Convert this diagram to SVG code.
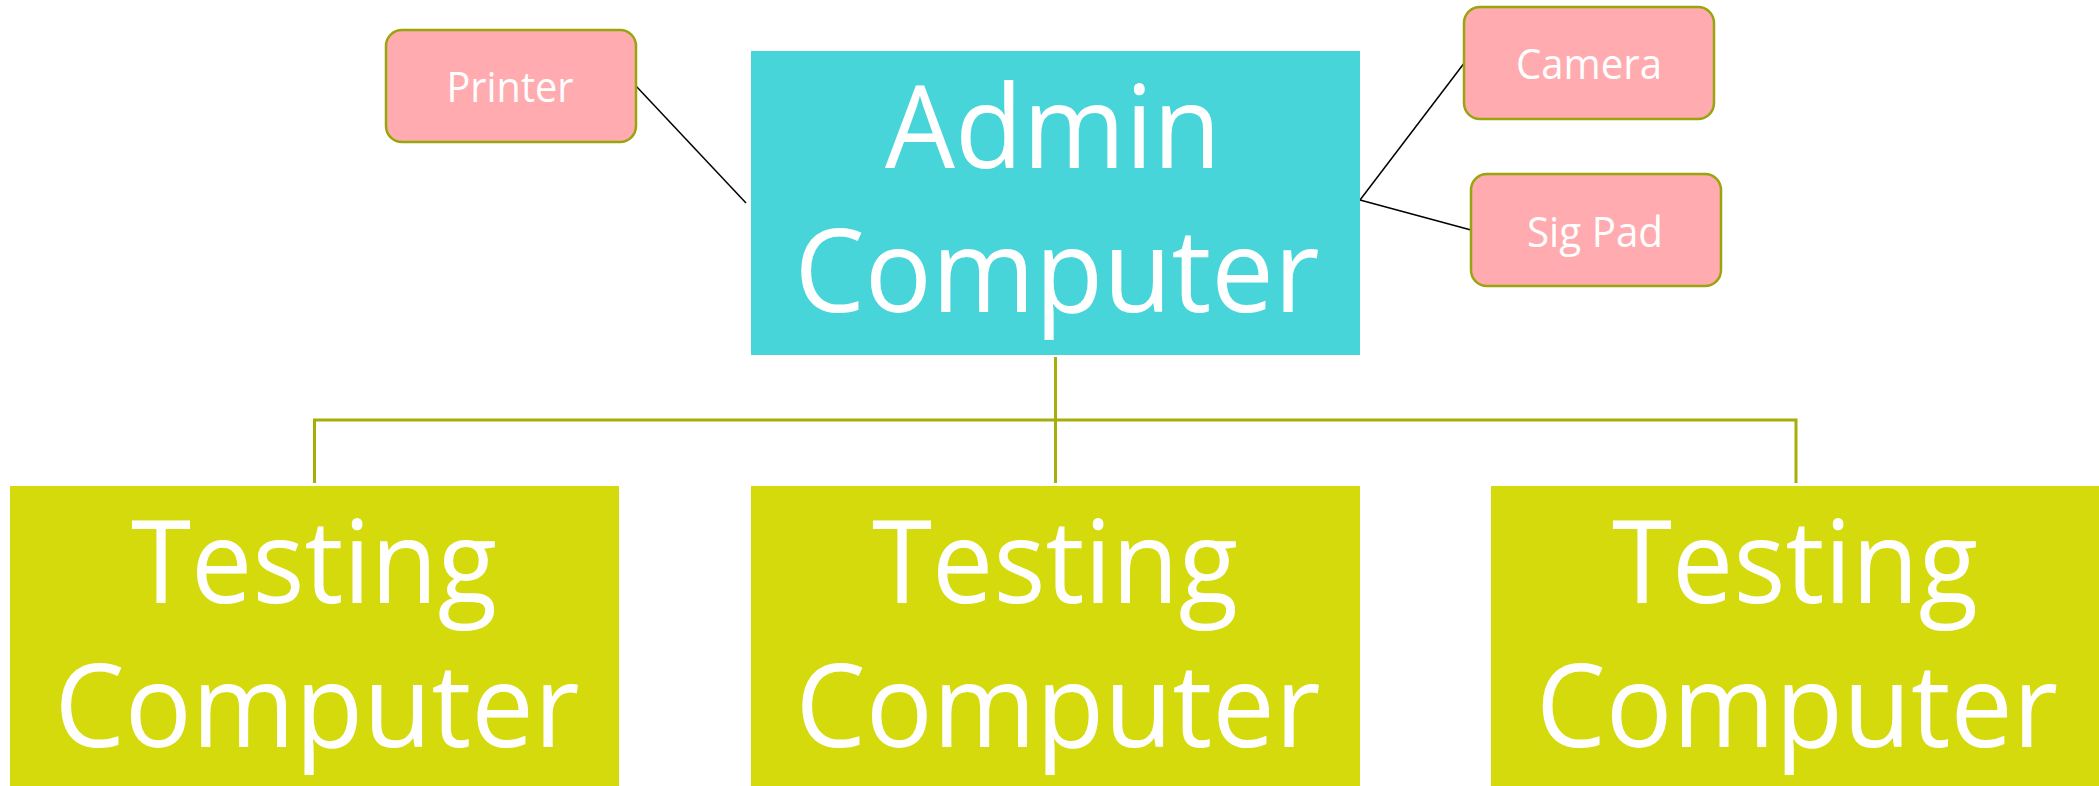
<svg xmlns="http://www.w3.org/2000/svg" width="2099" height="786" viewBox="0 0 2099 786">
  <style>
    .big { font-family: "Open Sans", "Noto Sans", sans-serif; font-size: 115px; fill: #ffffff; text-anchor: middle; }
    .small { font-family: "Open Sans", "Noto Sans", sans-serif; font-size: 42px; fill: #ffffff; text-anchor: middle; }
    .admin { fill: #48d5da; }
    .testing { fill: #d4da0c; }
    .device { fill: #ffabaf; stroke: #9aa50e; stroke-width: 2.5; }
    .tree { stroke: #a6ae0c; stroke-width: 3; fill: none; }
    .link { stroke: #000000; stroke-width: 1.5; fill: none; }
  </style>
  <rect width="2099" height="786" fill="#ffffff"/>
  <g id="connectors">
    <path class="tree" d="M1055.5 357 V483 M314.5 483 V420 H1796 V483"/>
    <line class="link" x1="636" y1="86" x2="746" y2="203"/>
    <line class="link" x1="1360" y1="200" x2="1465" y2="62"/>
    <line class="link" x1="1360" y1="200" x2="1471" y2="230"/>
  </g>
  <g id="admin">
    <rect class="admin" x="751" y="51" width="609" height="304"/>
    <text class="big" x="1053" y="168" textLength="336" lengthAdjust="spacingAndGlyphs">Admin</text>
    <text class="big" x="1057" y="312" textLength="525" lengthAdjust="spacingAndGlyphs">Computer</text>
  </g>
  <g id="printer">
    <rect class="device" x="386" y="30" width="250" height="112" rx="16"/>
    <text class="small" x="510" y="102" textLength="127" lengthAdjust="spacingAndGlyphs">Printer</text>
  </g>
  <g id="camera">
    <rect class="device" x="1464" y="7" width="250" height="112" rx="16"/>
    <text class="small" x="1589" y="79" textLength="146" lengthAdjust="spacingAndGlyphs">Camera</text>
  </g>
  <g id="sigpad">
    <rect class="device" x="1471" y="174" width="250" height="112" rx="16"/>
    <text class="small" x="1595" y="247" textLength="136" lengthAdjust="spacingAndGlyphs">Sig Pad</text>
  </g>
  <g id="testing1">
    <rect class="testing" x="10" y="486" width="609" height="304"/>
    <text class="big" x="314" y="603" textLength="366" lengthAdjust="spacingAndGlyphs">Testing</text>
    <text class="big" x="317" y="747" textLength="525" lengthAdjust="spacingAndGlyphs">Computer</text>
  </g>
  <g id="testing2">
    <rect class="testing" x="751" y="486" width="609" height="304"/>
    <text class="big" x="1055" y="603" textLength="366" lengthAdjust="spacingAndGlyphs">Testing</text>
    <text class="big" x="1058" y="747" textLength="525" lengthAdjust="spacingAndGlyphs">Computer</text>
  </g>
  <g id="testing3">
    <rect class="testing" x="1491" y="486" width="608" height="304"/>
    <text class="big" x="1795" y="603" textLength="366" lengthAdjust="spacingAndGlyphs">Testing</text>
    <text class="big" x="1797" y="747" textLength="522" lengthAdjust="spacingAndGlyphs">Computer</text>
  </g>
</svg>
